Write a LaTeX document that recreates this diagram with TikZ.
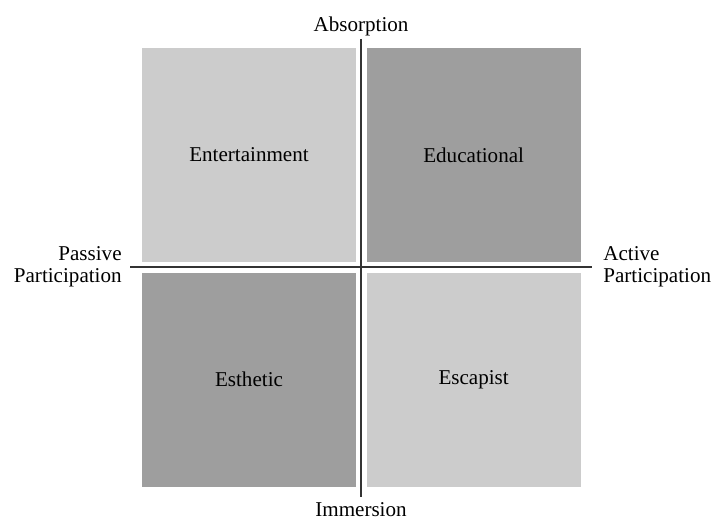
\documentclass[tikz,border=0pt]{standalone}
\usepackage{fontspec}
\setmainfont{Liberation Serif}
\usetikzlibrary{positioning}
\definecolor{lightq}{gray}{0.80}
\definecolor{darkq}{gray}{0.62}

\begin{document}
\begin{tikzpicture}[x=0.02cm,y=-0.02cm,
  every node/.style={font=\fontsize{12}{12.5}\selectfont},
  quad/.style={minimum width=4.28cm,minimum height=4.28cm,inner sep=0pt},
  axis/.style={line width=1.3pt,black!80}]
\useasboundingbox (0,0) rectangle (715,519);

  \node[quad,fill=lightq] (ent) at (249,155) {Entertainment};
  \node[quad,fill=darkq,right=0.2cm of ent] (edu) {Educational};
  \node[quad,fill=darkq,below=0.2cm of ent] (est) {Esthetic};
  \node[quad,fill=lightq,below=0.2cm of edu] (esc) {Escapist};

\coordinate (top) at (361,39);
\coordinate (bot) at (361,497);
\coordinate (lft) at (130,267);
\coordinate (rgt) at (592,267);
\draw[axis](top)--(bot);
\draw[axis](lft)--(rgt);

  \node[above=0.06cm of top,inner sep=0pt](abs){Absorption};
  \node[below=0.1cm of bot,inner sep=0pt](imm){Immersion};
  \node[left=0.16cm of lft,inner sep=0pt,align=right](pas){Passive\\Participation};
  \node[right=0.22cm of rgt,inner sep=0pt,align=left](act){Active\\Participation};
  \end{tikzpicture}
\end{document}
